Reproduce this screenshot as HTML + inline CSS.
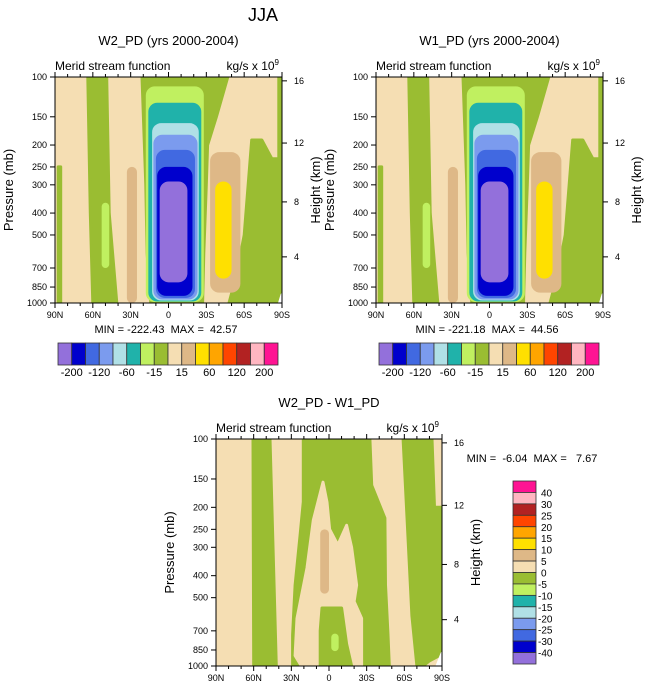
<!DOCTYPE html>
<html><head><meta charset="utf-8">
<style>
html,body{margin:0;padding:0;background:#fff;}
svg{display:block;font-family:"Liberation Sans",sans-serif;}
</style></head>
<body>
<svg id="fig" width="648" height="690" viewBox="0 0 648 690" xmlns="http://www.w3.org/2000/svg">
<text x="263" y="21" font-size="18" text-anchor="middle">JJA</text>
</svg>
<script>
// ---- data ----
const pressureTicks = [100,150,200,250,300,400,500,700,850,1000];
const latMajor = [90,60,30,0,-30,-60,-90];
const latLabels = ["90N","60N","30N","0","30S","60S","90S"];
const heightLabels = [4,8,12,16];
const heightPressure = [625,357,196,104];
const topLevels = ["-200","-120","-60","-15","15","60","120","200"];
const colors16 = ["#9370DB","#0000CD","#4169E1","#7B9BEE","#B0E0E6","#20B2AA","#C0F060","#9ABD32","#F5DEB3","#DEB887","#FFE000","#FFA500","#FF4500","#B22222","#FFB6C1","#FF1493"];
const diffLevels = ["40","30","25","20","15","10","5","0","-5","-10","-15","-20","-25","-30","-40"];
// contour regions: [colorIndex, polygon of [lat, pressure]] ; colorIndex -1 = missing (white)
const topPolys = [
 [7,[[64,100],[49,100],[47,400],[41,1000],[60,1000],[62,400]]],
 [7,[[21,100],[-47,100],[-38,150],[-31,200],[-30,300],[-28,600],[-27,1000],[14,1000],[17,600],[18,300]]],
 [7,[[-66,190],[-74,190],[-82,230],[-90,230],[-90,900],[-86,1000],[-48,1000],[-54,750],[-60,500]]],
 [7,[[-87.5,100],[-90,100],[-90,300],[-87.5,300]]],
 [7,[[87.5,250],[85.5,250],[85.5,1000],[87.5,1000]]],
 [-1,[[-90,920],[-88,1000],[-90,1000]]]
];
const topRects = [
 [6,53,47,360,700],[9,33,25,250,1000],
 [6,18,-28,110,990],[5,16,-26,130,985],[4,13,-24,160,975],[3,12,-23,180,965],
 [2,10,-21,210,950],[1,9,-19,250,930],[0,7,-15,290,810],
 [9,-33,-57,215,900],[10,-37,-50,290,780]
];
const diffPolys = [
 [7,[[60.5,100],[47,100],[44,400],[42,1000],[60,1000]]],
 [7,[[20.5,100],[-32.6,100],[-34,160],[-44.5,223],[-45,440],[-47,730],[-48,1000],[29,1000],[29,730],[27,440],[23,265],[20.5,189]]],
 [8,[[4.8,155],[1.6,190],[-0.5,250],[-7,293],[-14,240],[-18,300],[-22,440],[-20,520],[-26,617],[-26,1000],[22,1000],[27,900],[25.5,617],[17.5,370],[12.5,228]]],
 [7,[[5.6,555],[-10,555],[-14,800],[-18,1000],[7,1000],[7,700]]],
 [7,[[-59,100],[-82,100],[-84,200],[-90,200],[-90,850],[-88,900],[-80,950],[-75,1000],[-70,1000],[-66,600]]],
 [-1,[[-90,880],[-86,1000],[-90,1000]]]
];
const diffRects = [[9,7,0,250,480],[6,-1.8,-7.7,720,860]];

const NS="http://www.w3.org/2000/svg";
const svg=document.getElementById('fig');
function el(tag,attrs,parent,txt){const e=document.createElementNS(NS,tag);for(const k in attrs)e.setAttribute(k,attrs[k]);if(txt!==undefined)e.textContent=txt;(parent||svg).appendChild(e);return e;}
function col(i){return i<0?'#ffffff':colors16[i];}

function panel(px,py,w,h,title,polys,rects,statText,statX,statY,id){
 const X=lat=>px+(90-lat)/180*w;
 const Y=p=>py+Math.log10(p/100)*h;
 const g=el('g',{},svg);
 
 
 const cp=el('clipPath',{id:'c'+id},g);
 el('rect',{x:px,y:py,width:w,height:h},cp);
 const plot=el('g',{'clip-path':'url(#c'+id+')'},g);
 const bg=el('rect',{x:px,y:py,width:w,height:h,fill:colors16[8]},plot);
 
 
 polys.forEach(s=>{
  const pts=s[1].map(q=>X(q[0]).toFixed(1)+','+Y(q[1]).toFixed(1)).join(' ');
  const pg=el('polygon',{points:pts,fill:col(s[0]),'stroke':col(s[0]),'stroke-linejoin':'round','stroke-width':3},plot);
  
  
 });
 rects.forEach(r=>{
  const x1=X(r[1]),x2=X(r[2]),y1=Y(r[3]),y2=Y(r[4]);
  const rr=el('rect',{x:x1,y:y1,width:x2-x1,height:y2-y1,rx:Math.min(9,(x2-x1)/2),fill:col(r[0])},plot);
  
  
 });
 el('rect',{x:px,y:py,width:w,height:h,fill:'none',stroke:'#000','stroke-width':1},g);
 for(let lat=90;lat>=-90;lat-=10){
  const major=lat%30===0, x=X(lat), L=major?5:3;
  el('line',{x1:x,y1:py+h,x2:x,y2:py+h+L,stroke:'#000'},g);
  el('line',{x1:x,y1:py,x2:x,y2:py-L,stroke:'#000'},g);
 }
 latMajor.forEach((lat,i)=>{
  const t=el('text',{x:X(lat),y:py+h+15,'font-size':9,'text-anchor':'middle'},g,latLabels[i]);
  
  
 });
 pressureTicks.forEach(p=>{
  const y=Y(p);
  el('line',{x1:px,y1:y,x2:px-5,y2:y,stroke:'#000'},g);
  const t=el('text',{x:px-8,y:y+3,'font-size':9,'text-anchor':'end'},g,String(p));
  
  
 });
 heightLabels.forEach((k,i)=>{
  const y=Y(heightPressure[i]);
  el('line',{x1:px+w,y1:y,x2:px+w+5,y2:y,stroke:'#000'},g);
  const t=el('text',{x:px+w+12,y:y+3,'font-size':9},g,String(k));
  
  
 });
 const yt=el('text',{x:0,y:0,'font-size':13,'text-anchor':'middle',transform:`translate(${px-42},${py+h/2}) rotate(-90)`},g,'Pressure (mb)');
 
 
 const ht=el('text',{x:0,y:0,'font-size':13,'text-anchor':'middle',transform:`translate(${px+w+38},${py+h/2}) rotate(-90)`},g,'Height (km)');
 
 
 const ti=el('text',{x:px+w/2,y:py-32,'font-size':13,'text-anchor':'middle'},g,title);
 
 
 const lt=el('text',{x:px,y:py-7,'font-size':12},g,'Merid stream function');
 
 
 const rt=el('text',{x:px+w-3,y:py-7,'font-size':12,'text-anchor':'end'},g);
 
 
 el('tspan',{},rt,'kg/s x 10');
 el('tspan',{'font-size':8,dy:-5},rt,'9');
 const st=el('text',{x:statX,y:statY,'font-size':11,'text-anchor':'middle',style:'white-space:pre'},g,statText);
 
 
}

function hbar(x0,y0,w,h){
 const g=el('g',{},svg);
 
 
 const bw=w/colors16.length;
 colors16.forEach((c,i)=>{
  const r=el('rect',{x:x0+i*bw,y:y0,width:bw,height:h,fill:c,stroke:'#333','stroke-width':0.8},g);
  
  
 });
 topLevels.forEach((lab,i)=>{
  const t=el('text',{x:x0+(2*i+1)*bw,y:y0+h+11,'font-size':11,'text-anchor':'middle'},g,lab);
  
  
 });
}

panel(55,77,227,226,'W2_PD (yrs 2000-2004)',topPolys,topRects,'MIN = -222.43  MAX =  42.57',166,333,'w2');
hbar(58,343,220,22);
panel(376,77,227,226,'W1_PD (yrs 2000-2004)',topPolys,topRects,'MIN = -221.18  MAX =  44.56',487,333,'w1');
hbar(379,343,220,22);
panel(216,439,226,227,'W2_PD - W1_PD',diffPolys,diffRects,'MIN =  -6.04  MAX =   7.67',532,462,'diff');

(function(){
 const g=el('g',{},svg);
 
 
 const x0=513,y0=481,w=23,H=183,bh=H/colors16.length;
 for(let i=0;i<colors16.length;i++){
  const c=colors16[colors16.length-1-i];
  const r=el('rect',{x:x0,y:y0+i*bh,width:w,height:bh,fill:c,stroke:'#333','stroke-width':0.8},g);
  
  
 }
 diffLevels.forEach((lab,i)=>{
  const t=el('text',{x:x0+w+(lab[0]==='-'?2:5),y:y0+(i+1)*bh+4,'font-size':10},g,lab);
  
  
 });
})();
</script>
</body></html>
